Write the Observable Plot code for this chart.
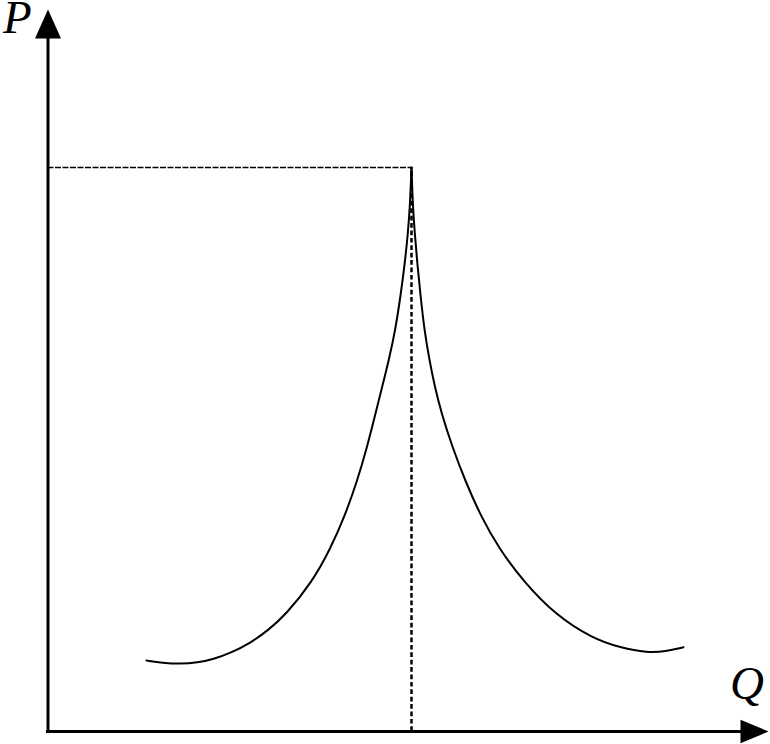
<!DOCTYPE html>
<html><head><meta charset="utf-8">
<script src="https://cdn.jsdelivr.net/npm/d3@7"></script>
<script src="https://cdn.jsdelivr.net/npm/@observablehq/plot@0.6"></script>
<style>html,body{margin:0;padding:0;background:#fff;overflow:hidden}</style>
</head><body><div id="chart"></div>
<script>
// Left branch of the curve (Q, P), arbitrary units
const leftQ = [98.5, 114.5, 132.5, 149.5, 165.5, 182.5, 202.5, 220, 237.5, 264.5, 282.5, 297, 309, 319, 327.5, 334.5, 340.7, 347.3, 352.9, 356.9, 360, 362, 363.5];
const leftP = [71, 68.6, 67.6, 68.8, 72.4, 78.5, 88.5, 101.2, 116.5, 150, 183, 216, 250, 284, 318, 346, 371, 401, 438, 469, 499, 526, 564];
// Right branch of the curve (Q, P)
const rightQ = [363.5, 364.8, 366.7, 369.2, 372.3, 376.4, 381.5, 386.5, 393.5, 404.5, 417.5, 432.5, 450.9, 475.5, 507.5, 544.5, 572.5, 599.5, 617.5, 635.5];
const rightP = [564, 526, 499, 469, 438, 401, 371, 346, 318, 284, 250, 216, 183, 150, 116.5, 93, 83.7, 78.7, 80, 84.3];
// Peak point (dashed guides)
const peakQ = [363.5];
const peakP = [564];
// Axis extents and labels
const domainQ = [0, 700];
const domainP = [0, 705];
const axisLabelX = ["Q"];
const axisLabelY = ["P"];

const left = leftQ.map((q, i) => ({Q: q, P: leftP[i]}));
const right = rightQ.map((q, i) => ({Q: q, P: rightP[i]}));

const upHead = {draw(ctx) { ctx.moveTo(0, -17); ctx.lineTo(13, 12); ctx.lineTo(-13, 12); ctx.closePath(); }};
const rightHead = {draw(ctx) { ctx.moveTo(20.5, 0); ctx.lineTo(-7.5, -11.7); ctx.lineTo(-7.5, 11.7); ctx.closePath(); }};

const font = "'Liberation Serif', 'Times New Roman', serif";

const chart = Plot.plot({
  width: 770,
  height: 744,
  marginLeft: 47.5,
  marginRight: 22.5,
  marginTop: 26,
  marginBottom: 13,
  style: {background: "#fff", color: "#000"},
  x: {domain: domainQ, axis: null},
  y: {domain: domainP, axis: null},
  marks: [
    Plot.ruleY(peakP, {x1: domainQ[0], x2: peakQ[0], stroke: "#000", strokeWidth: 1.5, strokeDasharray: "6,1.5"}),
    Plot.ruleX(peakQ, {y1: domainP[0], y2: peakP[0], stroke: "#000", strokeWidth: 2.5, strokeDasharray: "4.7,2.7"}),
    Plot.line(left, {x: "Q", y: "P", curve: "basis", stroke: "#000", strokeWidth: 2}),
    Plot.line(right, {x: "Q", y: "P", curve: "basis", stroke: "#000", strokeWidth: 2}),
    Plot.ruleX([domainQ[0]], {y1: domainP[0], y2: domainP[1], stroke: "#000", strokeWidth: 3, strokeLinecap: "square"}),
    Plot.ruleY([domainP[0]], {x1: domainQ[0], x2: domainQ[1], stroke: "#000", strokeWidth: 3, strokeLinecap: "square"}),
    Plot.dot([0], {x: () => domainQ[0], y: () => domainP[1], symbol: upHead, fill: "#000", stroke: "none"}),
    Plot.dot([0], {x: () => domainQ[1], y: () => domainP[0], symbol: rightHead, fill: "#000", stroke: "none"}),
    Plot.text(axisLabelY, {text: d => d, frameAnchor: "top-left", dx: -45, dy: 6, textAnchor: "start", lineAnchor: "bottom", fontSize: 47, fontStyle: "italic", fontFamily: font, fill: "#000"}),
    Plot.text(axisLabelX, {text: d => d, frameAnchor: "bottom-right", dx: -18, dy: -33, textAnchor: "start", lineAnchor: "bottom", fontSize: 47, fontStyle: "italic", fontFamily: font, fill: "#000"})
  ]
});
document.getElementById("chart").appendChild(chart);
</script>
</body></html>
